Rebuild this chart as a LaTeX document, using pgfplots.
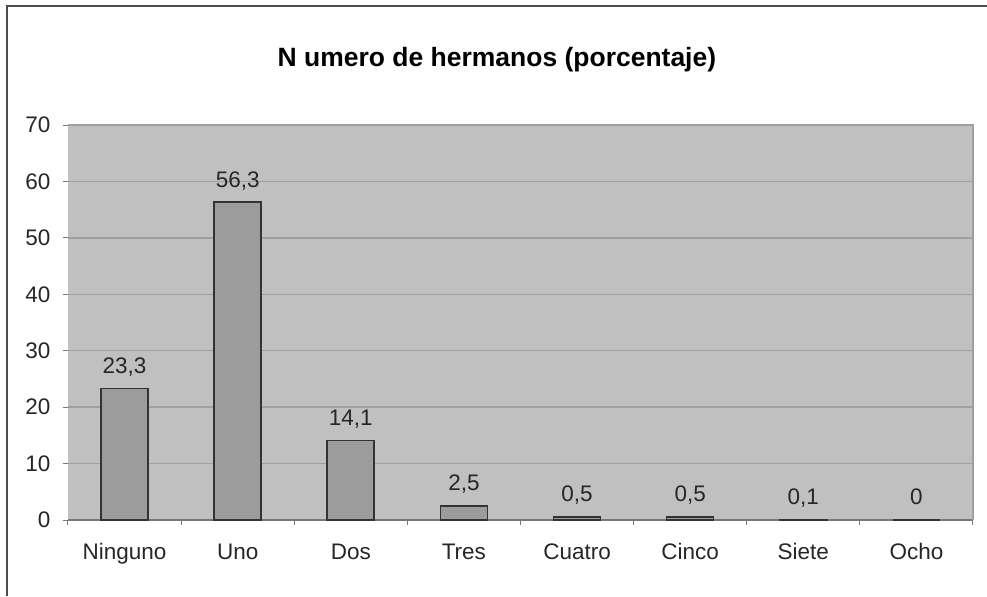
\documentclass[border=0pt]{standalone}
\usepackage{pgfplots}
\pgfplotsset{compat=1.18}
\usepackage{fontspec}
\setmainfont{Liberation Sans}

\definecolor{plotbg}{HTML}{C0C0C0}
\definecolor{barfill}{HTML}{9C9C9C}
\definecolor{gridc}{HTML}{A0A0A0}
\definecolor{axisc}{HTML}{787878}

\begin{document}
\begin{tikzpicture}
\begin{axis}[
    scale only axis,
    width=13.575cm, height=5.925cm,
    xmin=-0.5, xmax=7.5,
    ymin=0, ymax=70,
    ytick={0,10,...,70},
    yticklabels={0,10,20,30,40,50,60,70},
    xtick=data,
    xticklabels={Ninguno,Uno,Dos,Tres,Cuatro,Cinco,Siete,Ocho},
    minor xtick={-0.5,0.5,...,7.5},
    major x tick style={draw=none},
    minor x tick style={draw=axisc, thin},
    y tick style={draw=axisc, thin},
    tick align=outside,
    major tick length=2pt,
    minor tick length=2pt,
    axis background/.style={fill=plotbg},
    ymajorgrids,
    grid style={draw=gridc, line width=0.6pt},
    axis x line*=bottom,
    axis y line*=left,
    x axis line style={draw=axisc, line width=0.8pt},
    y axis line style={draw=none},
    tick label style={font=\fontsize{9.6}{11}\selectfont, text=black!85},
    xticklabel style={yshift=-4pt, text height=1.4ex, text depth=0.3ex},
    yticklabel style={xshift=-2pt},
    ybar,
    bar width=0.705cm,
    point meta=explicit symbolic,
    nodes near coords,
    nodes near coords style={font=\fontsize{9.6}{11}\selectfont, text=black!85,
      text depth=0.2em, yshift=0.8pt},
    clip=false,
]
\addplot[fill=barfill, draw=black!80, line width=0.7pt]
  coordinates {(0,23.3) [23,3] (1,56.3) [56,3] (2,14.1) [14,1] (3,2.5) [2,5]
               (4,0.5) [0,5] (5,0.5) [0,5] (6,0.1) [0,1] (7,0) [0]};
\draw[draw=gridc, line width=0.6pt] (rel axis cs:0,1) -- (rel axis cs:1,1) -- (rel axis cs:1,0);
\node[font=\bfseries\fontsize{11.3}{13}\selectfont, anchor=base] at (rel axis cs:0.474,1.147) {N umero de hermanos (porcentaje)};
\coordinate (bl) at (rel axis cs:-0.0751,-0.1924);
\coordinate (tr) at (rel axis cs:1.0155,1.3165);
\coordinate (fl) at (rel axis cs:-0.0674,-0.1924);
\coordinate (ft) at (rel axis cs:1.0155,1.3013);
\end{axis}
\draw[black!70, line width=0.6pt] (fl) |- (ft);
\pgfresetboundingbox
\path[use as bounding box] (bl) rectangle (tr);
\end{tikzpicture}
\end{document}
